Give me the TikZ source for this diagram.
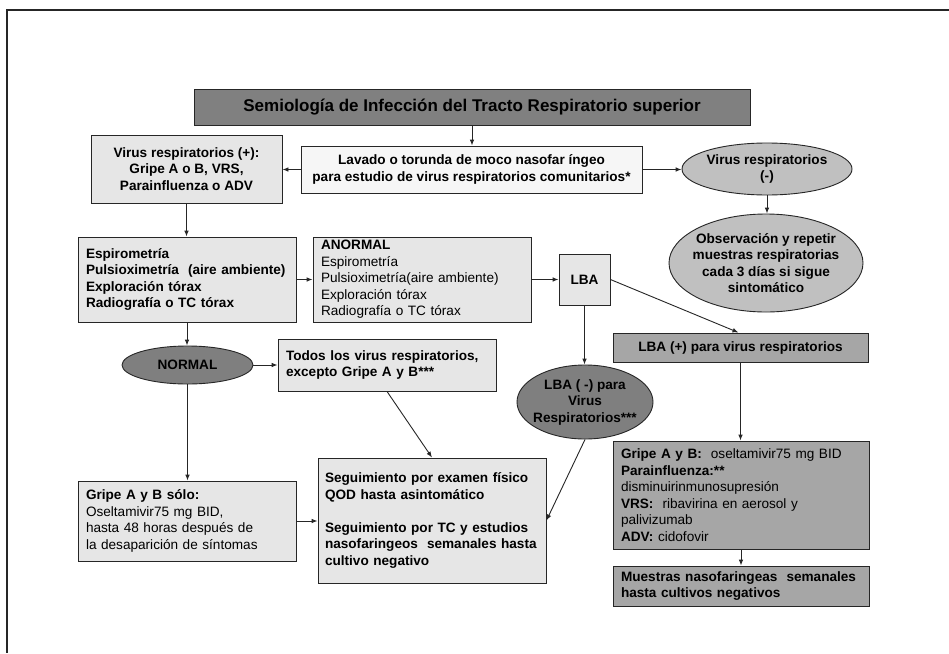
\documentclass[tikz,border=0pt]{standalone}
\usepackage{fontspec}
\setmainfont{Liberation Sans}
\usetikzlibrary{arrows.meta,shapes.geometric}
\definecolor{titlegray}{HTML}{808080}
\definecolor{lightbox}{HTML}{E6E6E6}
\definecolor{whitebox}{HTML}{F6F6F6}
\definecolor{midgray}{HTML}{C0C0C0}
\definecolor{darkfill}{HTML}{7F7F7F}
\definecolor{boxgray}{HTML}{A6A6A6}
\definecolor{edge}{HTML}{262626}
\begin{document}
\begin{tikzpicture}[x=1pt,y=-1pt,
  body/.style={font=\fontsize{13.6}{16.5}\selectfont},
  bodyb/.style={font=\fontsize{13.6}{16.5}\selectfont\bfseries},
  bx/.style={rectangle, draw=edge, line width=0.9pt, inner sep=0pt},
  ell/.style={ellipse, draw=edge, line width=0.9pt, inner sep=0pt},
  lbox/.style={bx, text width=#1, align=left},
  cbox/.style={bx, align=center},
  arr/.style={draw=edge, line width=0.9pt, -{Latex[length=6pt,width=4.6pt]}},
  lbl/.style={inner sep=0pt, align=center}
]
\useasboundingbox (0,0) rectangle (949,653);
\fill[white] (0,0) rectangle (949,653);
% frame
\draw[line width=1.8pt, black!85] (949,10) -- (7,10) -- (7,653);

% title
\node[cbox, fill=titlegray, minimum width=556, minimum height=36,
      font=\fontsize{17}{20}\selectfont\bfseries] (title) at (472,107)
  {Semiología de Infección del Tracto Respiratorio superior};

% lavado
\node[cbox, bodyb, fill=whitebox, minimum width=341, minimum height=47] (lavado) at (471.5,169.5)
  {Lavado o torunda de moco nasofar íngeo\\para estudio de virus respiratorios comunitarios*};

% virus +
\node[cbox, bodyb, fill=lightbox, minimum width=191, minimum height=68] (vplus) at (186.5,169)
  {Virus respiratorios (+):\\Gripe A o B, VRS,\\Parainfluenza o ADV};

% virus - ellipse
\node[ell, fill=midgray, minimum width=170, minimum height=52] (vminus) at (767,169) {};
\node[lbl, bodyb] (vminust) at (vminus.center) {Virus respiratorios\\(-)};

% observacion ellipse
\node[ell, fill=midgray, minimum width=194, minimum height=98] (obs) at (766,263) {};
\node[lbl, bodyb] (obst) at (obs.center)
  {Observación y repetir\\muestras respiratorias\\cada 3 días si sigue\\sintomático};

% espirometria
\node[lbox=202, bodyb, fill=lightbox, minimum width=218, minimum height=85] (esp) at (187,279.5)
  {Espirometría\\Pulsioximetría\ \ (aire ambiente)\\Exploración tórax\\Radiografía o TC tórax};

% anormal
\node[lbox=202, body, fill=lightbox, minimum width=218, minimum height=85] (anormal) at (422,279.5)
  {\textbf{ANORMAL}\\Espirometría\\Pulsioximetría(aire ambiente)\\Exploración tórax\\Radiografía o TC tórax};

% LBA
\node[cbox, bodyb, fill=lightbox, minimum width=51, minimum height=51] (lba) at (584.5,279.5) {LBA};

% LBA +
\node[cbox, bodyb, fill=boxgray, minimum width=255, minimum height=29] (lbaplus) at (740.5,347.5)
  {LBA (+) para virus respiratorios};

% LBA - ellipse
\node[ell, fill=darkfill, minimum width=136, minimum height=74] (lbaminus) at (585,402) {};
\node[lbl, bodyb] (lbaminust) at (lbaminus.center) {LBA ( -) para\\Virus\\Respiratorios***};

% NORMAL ellipse
\node[ell, fill=darkfill, minimum width=131, minimum height=38] (normal) at (187.5,365) {};
\node[lbl, bodyb] (normalt) at (normal.center) {NORMAL};

% todos
\node[lbox=202, bodyb, fill=lightbox, minimum width=218, minimum height=52] (todos) at (387,365)
  {Todos los virus respiratorios,\\excepto Gripe A y B***};

% gripe
\node[lbox=202, body, fill=lightbox, minimum width=218, minimum height=80] (gripe) at (187,521)
  {\textbf{Gripe A y B sólo:}\\Oseltamivir75 mg BID,\\hasta 48 horas después de\\la desaparición de síntomas};

% seguimiento
\node[lbox=214, bodyb, fill=lightbox, minimum width=228, minimum height=125] (seg) at (432,520.5)
  {Seguimiento por examen físico\\QOD hasta asintomático\\[16.5pt]Seguimiento por TC y estudios\\nasofaringeos\ \ semanales hasta\\cultivo negativo};

% treatment
\node[lbox=240, body, fill=boxgray, minimum width=256, minimum height=108] (treat) at (741,495)
  {\textbf{Gripe A y B:}\ \ oseltamivir75 mg BID\\\textbf{Parainfluenza:**}\\disminuirinmunosupresión\\\textbf{VRS:}\ \ ribavirina en aerosol y\\palivizumab\\\textbf{ADV:} cidofovir};

% muestras
\node[lbox=240, bodyb, fill=boxgray, minimum width=256, minimum height=40] (muestras) at (741,586)
  {Muestras nasofaringeas\ \ semanales\\hasta cultivos negativos};

% connectors
\draw[arr] (title.south) -- (title.south |- lavado.north);
\draw[arr] (lavado.west) -- (vplus.east |- lavado.west);
\draw[arr] (lavado.east) -- (vminus.west |- lavado.east);
\draw[arr] (vminus.south) -- (vminus.south |- obs.north);
\draw[arr] (vplus.south) -- (vplus.south |- esp.north);
\draw[arr] (esp.east) -- (anormal.west);
\draw[arr] (anormal.east) -- (lba.west);
\draw[arr] (lba.south) -- (lba.south |- lbaminus.north);
\draw[arr] (lba.east) -- ([xshift=-2pt]lbaplus.north);
\draw[arr] (esp.south) -- (esp.south |- normal.north);
\draw[arr] (normal.east) -- (todos.west);
\draw[arr] (todos.south) -- (seg.north);
\draw[arr] (normal.south) -- (normal.south |- gripe.north);
\draw[arr] (gripe.east) -- (seg.west |- gripe.east);
\draw[arr] (lbaminus.south) -- (seg.east);
\draw[arr] (lbaplus.south) -- (lbaplus.south |- treat.north);
\draw[arr] (treat.south) -- (muestras.north);
\end{tikzpicture}
\end{document}
